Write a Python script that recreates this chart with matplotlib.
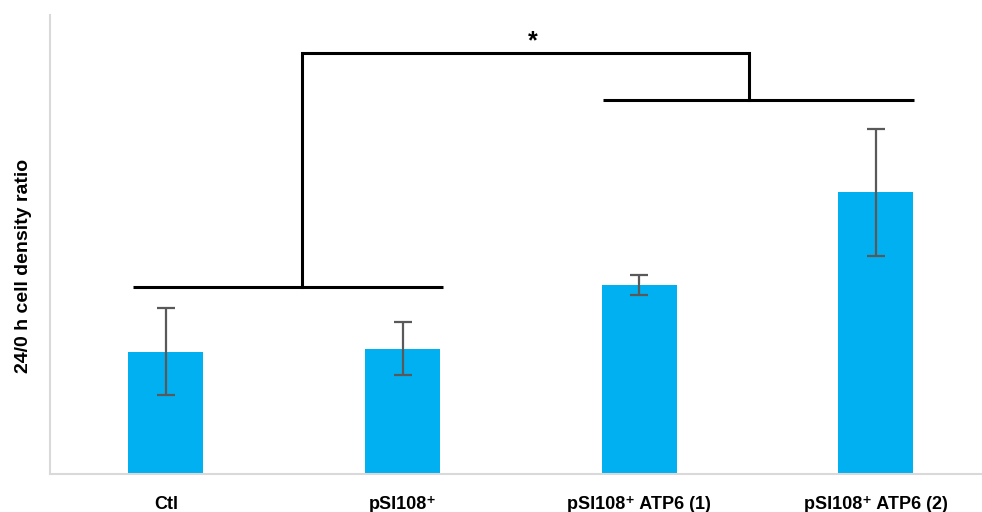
import matplotlib
matplotlib.use("Agg")
import matplotlib.pyplot as plt

# values (arbitrary ratio units, axis has no tick labels)
categories = ["Ctl", "pSI108\u207a", "pSI108\u207a ATP6 (1)", "pSI108\u207a ATP6 (2)"]
ratios = [0.80, 0.82, 1.235, 1.84]
errors = [0.284, 0.171, 0.067, 0.417]

# significance bracket: left group (bars 0-1) vs right group (bars 2-3)
left_group_y = 1.224
right_group_y = 2.444
bracket_top_y = 2.75
star_label = "*"

plt.rcParams["font.family"] = ["Liberation Sans", "DejaVu Sans"]

fig = plt.figure(figsize=(9.82, 5.12), dpi=100)
ax = fig.add_axes([50 / 982, 38 / 512, 944 / 982, 459 / 512])

x = list(range(len(categories)))
ax.bar(x, ratios, width=0.317, color="#00B0F0", zorder=2)
ax.errorbar(x, ratios, yerr=errors, fmt="none", ecolor="#595959",
            elinewidth=1.6, capsize=6.4, capthick=1.6, zorder=3)

# bracket lines
lw = 2.2
ax.plot([-0.138, 1.172], [left_group_y, left_group_y], color="black", lw=lw, solid_capstyle="butt")
ax.plot([1.849, 3.16], [right_group_y, right_group_y], color="black", lw=lw, solid_capstyle="butt")
ax.plot([0.574, 0.574, 2.466, 2.466], [left_group_y, bracket_top_y, bracket_top_y, right_group_y],
        color="black", lw=lw, solid_joinstyle="miter")
ax.text(1.549, 2.83, star_label, ha="center", va="center", fontsize=18, fontweight="bold")

ax.set_xlim(-0.49, 3.5)
ax.set_ylim(0, 3.0)
ax.set_xticks(x)
ax.set_xticklabels(categories, fontsize=13, fontweight="bold")
ax.tick_params(axis="x", length=0, pad=16)
ax.set_yticks([])

for side in ["top", "right"]:
    ax.spines[side].set_visible(False)
for side in ["left", "bottom"]:
    ax.spines[side].set_color("#d9d9d9")
    ax.spines[side].set_linewidth(1.5)

ax.set_ylabel("24/0 h cell density ratio", fontsize=14, fontweight="bold")
ax.yaxis.set_label_coords(-18 / 944, (474 - 266) / 459)

fig.savefig("out.png", dpi=100)
